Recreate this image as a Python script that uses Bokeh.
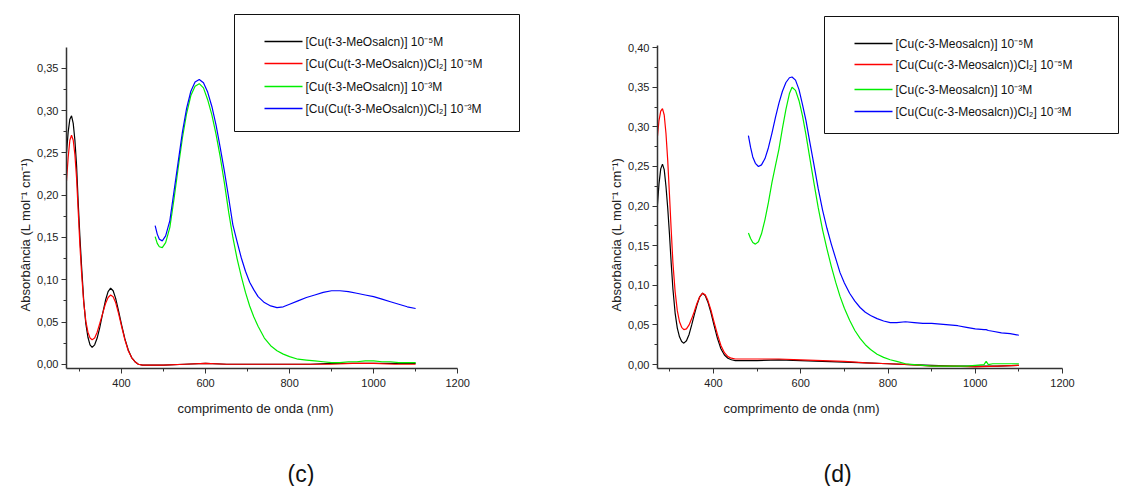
from bokeh.plotting import figure
from bokeh.layouts import row
from bokeh.models import Range1d, FixedTicker, CustomJSTickFormatter, Title, BoxAnnotation, Label
from bokeh.embed import file_html
from bokeh.resources import INLINE

FONT = "Liberation Sans"

# ---------------- data (c) ----------------
c_uv_wl = [269, 273, 277, 281, 285, 289, 293, 297, 301, 305, 310, 315, 320, 325, 330, 336, 342, 348,
           355, 362, 368, 374, 380, 386, 393, 400, 408, 416, 424, 432, 440, 450, 465, 500, 550, 600,
           650, 700, 750, 800, 850, 900, 950, 1000, 1050, 1100]
c_black = [0.250, 0.275, 0.290, 0.294, 0.285, 0.265, 0.235, 0.190, 0.150, 0.115, 0.075, 0.048, 0.032,
           0.023, 0.020, 0.023, 0.031, 0.043, 0.060, 0.076, 0.086, 0.090, 0.087, 0.078, 0.063, 0.047,
           0.030, 0.017, 0.008, 0.003, 0.000, -0.001, -0.001, -0.001, 0.000, 0.001, 0.000, 0.000,
           0.000, 0.000, 0.000, 0.001, 0.001, 0.001, 0.001, 0.001]
c_red = [0.217, 0.245, 0.265, 0.271, 0.265, 0.248, 0.220, 0.180, 0.140, 0.107, 0.073, 0.051, 0.038,
         0.031, 0.029, 0.031, 0.038, 0.048, 0.060, 0.072, 0.079, 0.082, 0.080, 0.073, 0.060, 0.045,
         0.029, 0.016, 0.008, 0.003, 0.000, -0.001, -0.001, -0.001, 0.000, 0.001, 0.000, 0.000,
         0.000, 0.000, 0.000, 0.000, 0.001, 0.001, 0.000, 0.000]

c_vis_wl = [480, 485, 490, 497, 505, 515, 525, 535, 545, 555, 565, 575, 585, 595, 605, 615, 625, 635,
            645, 655, 665, 675, 685, 695, 705, 715, 725, 740, 755, 770, 785, 800, 820, 840, 860, 880,
            900, 920, 940, 960, 980, 1000, 1020, 1040, 1060, 1080, 1100]
c_green = [0.151, 0.143, 0.139, 0.138, 0.144, 0.162, 0.196, 0.233, 0.268, 0.297, 0.318, 0.329, 0.332,
           0.327, 0.313, 0.295, 0.272, 0.245, 0.214, 0.180, 0.150, 0.125, 0.104, 0.085, 0.069, 0.056,
           0.045, 0.031, 0.022, 0.016, 0.012, 0.009, 0.006, 0.005, 0.004, 0.003, 0.002, 0.002, 0.003,
           0.003, 0.004, 0.004, 0.003, 0.003, 0.002, 0.002, 0.002]
c_blue = [0.164, 0.154, 0.148, 0.146, 0.152, 0.170, 0.205, 0.240, 0.275, 0.303, 0.323, 0.334, 0.337,
          0.333, 0.322, 0.305, 0.283, 0.256, 0.228, 0.197, 0.165, 0.145, 0.126, 0.110, 0.097, 0.088,
          0.080, 0.073, 0.069, 0.067, 0.068, 0.071, 0.075, 0.079, 0.082, 0.085, 0.087, 0.087, 0.086,
          0.084, 0.082, 0.080, 0.077, 0.074, 0.071, 0.068, 0.066]

# ---------------- data (d) ----------------
d_uv_wl = [271, 275, 279, 283, 287, 291, 295, 299, 303, 307, 312, 317, 322, 327, 332, 338, 344, 350,
           356, 362, 368, 375, 381, 387, 394, 401, 409, 417, 425, 433, 441, 450, 465, 500, 550, 600,
           650, 700, 750, 800, 850, 900, 950, 1000, 1050, 1100]
d_black = [0.198, 0.228, 0.247, 0.253, 0.246, 0.225, 0.198, 0.165, 0.128, 0.095, 0.065, 0.046, 0.035,
           0.029, 0.027, 0.030, 0.038, 0.050, 0.063, 0.075, 0.085, 0.090, 0.087, 0.079, 0.066, 0.050,
           0.033, 0.020, 0.012, 0.008, 0.006, 0.005, 0.005, 0.005, 0.006, 0.005, 0.004, 0.003, 0.002,
           0.001, 0.000, -0.001, -0.002, -0.002, -0.002, -0.001]
d_red = [0.285, 0.308, 0.320, 0.323, 0.315, 0.292, 0.258, 0.215, 0.170, 0.128, 0.092, 0.068, 0.054,
         0.047, 0.044, 0.045, 0.050, 0.058, 0.067, 0.077, 0.085, 0.090, 0.088, 0.081, 0.069, 0.054,
         0.038, 0.024, 0.015, 0.010, 0.008, 0.007, 0.007, 0.007, 0.007, 0.006, 0.005, 0.004, 0.002,
         0.001, 0.000, -0.002, -0.002, -0.003, -0.002, -0.001]

d_vis_wl = [480, 485, 490, 496, 503, 510, 518, 526, 534, 542, 550, 558, 566, 574, 580, 588, 596, 604,
            612, 620, 630, 640, 650, 660, 670, 680, 690, 700, 712, 724, 736, 748, 760, 775, 790, 805,
            820, 840, 860, 880, 900, 920, 940, 960, 980, 1000, 1020, 1025, 1030, 1040, 1060, 1080, 1100]
d_green = [0.166, 0.159, 0.154, 0.152, 0.155, 0.165, 0.183, 0.205, 0.230, 0.251, 0.272, 0.298, 0.322,
           0.342, 0.350, 0.346, 0.333, 0.314, 0.290, 0.263, 0.230, 0.198, 0.170, 0.146, 0.124, 0.104,
           0.086, 0.071, 0.056, 0.043, 0.033, 0.025, 0.019, 0.013, 0.009, 0.006, 0.004, 0.001, 0.000,
           -0.001, -0.002, -0.002, -0.002, -0.002, -0.002, -0.001, 0.000, 0.004, 0.000, 0.001, 0.001,
           0.001, 0.001]
d_blue = [0.289, 0.274, 0.262, 0.254, 0.250, 0.252, 0.260, 0.274, 0.292, 0.312, 0.330, 0.345, 0.356,
          0.362, 0.363, 0.359, 0.347, 0.328, 0.308, 0.283, 0.253, 0.222, 0.195, 0.172, 0.152, 0.134,
          0.116, 0.103, 0.090, 0.080, 0.072, 0.066, 0.062, 0.058, 0.055, 0.053, 0.053, 0.054, 0.053,
          0.052, 0.052, 0.051, 0.050, 0.049, 0.047, 0.045, 0.044, 0.044, 0.043, 0.042, 0.040, 0.039,
          0.037]

labels_c = ["[Cu(t-3-MeOsalcn)] 10\u207b\u2075M",
            "[Cu(Cu(t-3-MeOsalcn))Cl\u2082] 10\u207b\u2075M",
            "[Cu(t-3-MeOsalcn)] 10\u207b\u00b3M",
            "[Cu(Cu(t-3-MeOsalcn))Cl\u2082] 10\u207b\u00b3M"]
labels_d = ["[Cu(c-3-Meosalcn)] 10\u207b\u2075M",
            "[Cu(Cu(c-3-Meosalcn))Cl\u2082] 10\u207b\u2075M",
            "[Cu(c-3-Meosalcn)] 10\u207b\u00b3M",
            "[Cu(Cu(c-3-Meosalcn))Cl\u2082] 10\u207b\u00b3M"]
colors = ["#000000", "#ff0000", "#00ee00", "#0000ff"]

x_ticks = [400, 600, 800, 1000, 1200]
x_minor = [300, 500, 700, 900, 1100]
yt_c = [0.0, 0.05, 0.10, 0.15, 0.20, 0.25, 0.30, 0.35]
ym_c = [0.025, 0.075, 0.125, 0.175, 0.225, 0.275, 0.325]
yt_d = [0.0, 0.05, 0.10, 0.15, 0.20, 0.25, 0.30, 0.35, 0.40]
ym_d = [0.025, 0.075, 0.125, 0.175, 0.225, 0.275, 0.325, 0.375]

y_title = "Absorb\u00e2ncia (L mol\u207b\u00b9 cm\u207b\u00b9)"
x_title = "comprimento de onda (nm)"


def make_fig(xr, xb, yr, yb, yticks, yminor, bl, series, labels, box, rows,
             xt_off, panel, panel_off):
    p = figure(width=563, height=486, output_backend="svg", toolbar_location=None,
               x_range=Range1d(*xr), y_range=Range1d(*yr),
               min_border_left=bl, min_border_right=0, min_border_top=13, min_border_bottom=0)
    p.outline_line_color = None
    p.xgrid.visible = False
    p.ygrid.visible = False
    p.background_fill_color = "white"
    p.border_fill_color = "white"

    for ax in (p.xaxis[0], p.yaxis[0]):
        ax.axis_line_color = "#333333"
        ax.axis_line_width = 1.5
        ax.major_tick_line_color = "#333333"
        ax.minor_tick_line_color = "#333333"
        ax.major_tick_in = 0
        ax.major_tick_out = 5
        ax.minor_tick_in = 0
        ax.minor_tick_out = 3
        ax.major_label_text_font = FONT
        ax.major_label_text_font_size = "11px"
        ax.major_label_text_color = "#222222"

    p.xaxis[0].ticker = FixedTicker(ticks=x_ticks, minor_ticks=x_minor)
    p.xaxis[0].bounds = xb
    p.yaxis[0].ticker = FixedTicker(ticks=yticks, minor_ticks=yminor)
    p.yaxis[0].bounds = yb
    p.yaxis[0].formatter = CustomJSTickFormatter(code="return tick.toFixed(2).replace('.', ',');")
    p.yaxis[0].major_label_standoff = 3

    for (wx, wy), col in zip(series, colors):
        p.line(wx, wy, line_color=col, line_width=1.2)

    # legend drawn as screen-unit annotations (box, sample strokes, labels)
    bx0, bx1, by0, by1 = box
    p.add_layout(BoxAnnotation(left=bx0, right=bx1, bottom=by0, top=by1,
                               left_units="screen", right_units="screen",
                               bottom_units="screen", top_units="screen",
                               fill_color="white", fill_alpha=1.0,
                               line_color="#111111", line_width=1, line_alpha=1.0))
    lx0, lx1, tx = bx0 + 30, bx0 + 68, bx0 + 71
    for ry, col, lab in zip(rows, colors, labels):
        p.add_layout(BoxAnnotation(left=lx0, right=lx1, bottom=ry - 0.75, top=ry + 0.75,
                                   left_units="screen", right_units="screen",
                                   bottom_units="screen", top_units="screen",
                                   fill_color=col, fill_alpha=1.0, line_color=None))
        p.add_layout(Label(x=tx, y=ry, x_units="screen", y_units="screen", text=lab,
                           text_font=FONT, text_font_size="12px", text_color="#111111",
                           text_baseline="middle", text_align="left"))

    # y-axis title (left side), x-axis title, spacer and panel letter (below)
    p.add_layout(Title(text=y_title, align="left", offset=57, text_font=FONT,
                       text_font_size="13px", text_font_style="normal",
                       text_color="#222222", standoff=4), "left")
    p.add_layout(Title(text=x_title, align="left", offset=xt_off, text_font=FONT,
                       text_font_size="13px", text_font_style="normal",
                       text_color="#222222", standoff=18), "below")
    p.add_layout(Title(text=" ", text_font_size="1px", standoff=31), "below")
    p.add_layout(Title(text=panel, align="left", offset=panel_off, text_font=FONT,
                       text_font_size="23px", text_font_style="normal",
                       text_color="#111111", standoff=0), "below")
    return p


p1 = make_fig((269, 1452), (269, 1200), (-0.005, 0.415), (-0.005, 0.375), yt_c, ym_c, 66,
              [(c_uv_wl, c_black), (c_uv_wl, c_red), (c_vis_wl, c_green), (c_vis_wl, c_blue)],
              labels_c, (168, 453, 237, 354), [327, 305, 282, 260], 111, "(c)", 221)
p2 = make_fig((271.6, 1346.7), (271.6, 1200), (-0.005, 0.4431), (-0.005, 0.4025), yt_d, ym_d, 94,
              [(d_uv_wl, d_black), (d_uv_wl, d_red), (d_vis_wl, d_green), (d_vis_wl, d_blue)],
              labels_d, (167, 461, 235, 352), [325, 304, 279, 257], 66, "(d)", 166)

layout = row(p1, p2)
open("out.html", "w").write(file_html(layout, INLINE))
